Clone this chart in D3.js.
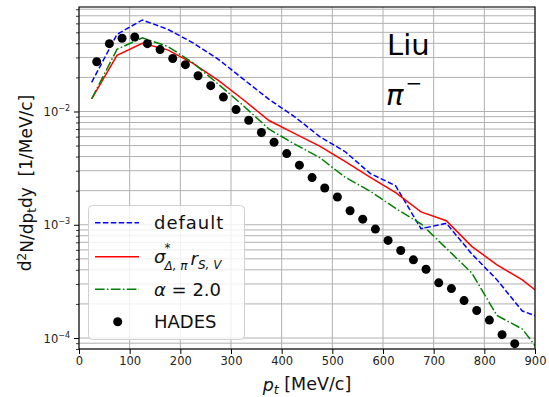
<!DOCTYPE html>
<html>
<head>
<meta charset="utf-8">
<script src="https://cdn.jsdelivr.net/npm/d3@7"></script>
<style>
  html, body { margin: 0; padding: 0; background: #fff; }
  svg { display: block; font-family: "DejaVu Sans", sans-serif; }
</style>
</head>
<body>
<svg id="chart" width="549" height="397"></svg>
<script>
// Transverse-momentum spectrum of pi-minus: three model curves and HADES data
const hadesPt = [35, 60, 85, 110, 135, 160, 185, 210, 235, 260, 285, 310, 335, 360, 385,
  410, 435, 460, 485, 510, 535, 560, 585, 610, 635, 660, 685, 710, 735, 760, 785, 810, 835, 860];
const hadesVals = [0.0275, 0.0397, 0.0443, 0.0455, 0.0397, 0.0352, 0.0294, 0.0259, 0.0207,
  0.0169, 0.0134, 0.0104, 0.00837, 0.00652, 0.00535, 0.00425, 0.00336, 0.00261, 0.00211,
  0.00176, 0.00133, 0.00112, 0.000916, 0.000727, 0.000592, 0.000490, 0.000405, 0.000307,
  0.000273, 0.000214, 0.000175, 0.000144, 0.000107, 0.0000891];

const modelPt = [25, 75, 125, 175, 225, 275, 325, 375, 425, 475, 525, 575, 625, 675, 725, 775, 825, 875, 925];
const defaultVals = [0.0181, 0.0480, 0.0643, 0.0532, 0.0404, 0.0289, 0.0192, 0.0128, 0.00903,
  0.00601, 0.00443, 0.00283, 0.00221, 0.000922, 0.00103, 0.000554, 0.000326, 0.000173, 0.000144];
const sigmaVals = [0.01295, 0.0313, 0.0400, 0.0350, 0.0266, 0.0188, 0.01264, 0.00832, 0.00641,
  0.00495, 0.00363, 0.00262, 0.00192, 0.00130, 0.001085, 0.000645, 0.000443, 0.000326, 0.000217];
const alphaVals = [0.01295, 0.0354, 0.0447, 0.0376, 0.0269, 0.01744, 0.01119, 0.00699, 0.00518,
  0.00392, 0.00263, 0.001975, 0.001394, 0.00102, 0.000619, 0.000376, 0.000158, 0.000120, 0.0000614];

const xTicks = [0, 100, 200, 300, 400, 500, 600, 700, 800, 900];
const yMajorTicks = [1e-4, 1e-3, 1e-2];
const yMajorLabels = ["\u22124", "\u22123", "\u22122"];

const margin = { left: 79, right: 14, top: 7, bottom: 48 };
const W = 549, H = 397;
const svg = d3.select("#chart");

const x = d3.scaleLinear().domain([0, 900]).range([margin.left, W - margin.right]);
const y = d3.scaleLog().domain([Math.pow(10, -4.0971), Math.pow(10, -1.0773)]).range([H - margin.bottom, margin.top]);

const x0 = x.range()[0], x1 = x.range()[1];
const yb = y.range()[0], yt = y.range()[1];

// minor ticks on the log axis
const yMinorTicks = [];
for (let e = -5; e <= -1; e++) {
  for (let m = 2; m <= 9; m++) {
    const v = m * Math.pow(10, e);
    if (v >= y.domain()[0] && v <= y.domain()[1]) yMinorTicks.push(v);
  }
}

const gridColor = "#b0b0b0";
const grid = svg.append("g");
grid.selectAll("line.gx").data(xTicks).join("line")
  .attr("x1", d => x(d)).attr("x2", d => x(d)).attr("y1", yt).attr("y2", yb)
  .attr("stroke", gridColor).attr("stroke-width", 1);
grid.selectAll("line.gy").data(yMajorTicks.concat(yMinorTicks)).join("line")
  .attr("x1", x0).attr("x2", x1).attr("y1", d => y(d)).attr("y2", d => y(d))
  .attr("stroke", gridColor).attr("stroke-width", 1);

svg.append("clipPath").attr("id", "plotclip").append("rect")
  .attr("x", x0).attr("y", yt).attr("width", x1 - x0).attr("height", yb - yt);

const plot = svg.append("g").attr("clip-path", "url(#plotclip)");
const line = d3.line().x(d => x(d[0])).y(d => y(d[1]));

const series = [
  { name: "default", vals: defaultVals, color: "#0000ff", dash: "5.5,2.4" },
  { name: "sigma", vals: sigmaVals, color: "#ff0000", dash: null },
  { name: "alpha", vals: alphaVals, color: "#008000", dash: "9.6,2.4,1.5,2.4" }
];
series.forEach(s => {
  plot.append("path")
    .datum(modelPt.map((p, i) => [p, s.vals[i]]))
    .attr("d", line)
    .attr("fill", "none")
    .attr("stroke", s.color)
    .attr("stroke-width", 1.5)
    .attr("stroke-dasharray", s.dash);
});

plot.selectAll("circle.hades").data(hadesPt.map((p, i) => [p, hadesVals[i]])).join("circle")
  .attr("cx", d => x(d[0])).attr("cy", d => y(d[1])).attr("r", 4.5).attr("fill", "#000");

// axes
const xAxis = svg.append("g").attr("transform", `translate(0,${yb})`)
  .call(d3.axisBottom(x).tickValues(xTicks).tickSize(5).tickPadding(3).tickFormat(d3.format("d")));
xAxis.select(".domain").remove();
xAxis.selectAll("text").attr("font-size", 11.5).attr("fill", "#222").attr("font-family", "DejaVu Sans");
xAxis.selectAll("line").attr("stroke", "#000").attr("stroke-width", 1);

const yAxis = svg.append("g").attr("transform", `translate(${x0},0)`)
  .call(d3.axisLeft(y).tickValues(yMajorTicks).tickSize(5).tickPadding(4).tickFormat(() => ""));
yAxis.select(".domain").remove();
yAxis.selectAll("line").attr("stroke", "#000").attr("stroke-width", 1);
yAxis.selectAll(".tick text").each(function(d, i) {
  const t = d3.select(this).attr("font-size", 11.5).attr("fill", "#222").attr("font-family", "DejaVu Sans")
    .attr("dy", "0.35em");
  t.append("tspan").text("10");
  t.append("tspan").attr("font-size", 8).attr("dy", "-0.6em").text(yMajorLabels[i]);
});

const yMinorAxis = svg.append("g").attr("transform", `translate(${x0},0)`)
  .call(d3.axisLeft(y).tickValues(yMinorTicks).tickSize(3).tickFormat(() => ""));
yMinorAxis.select(".domain").remove();
yMinorAxis.selectAll("line").attr("stroke", "#000").attr("stroke-width", 0.8);

// spines
svg.append("rect").attr("x", x0).attr("y", yt).attr("width", x1 - x0).attr("height", yb - yt)
  .attr("fill", "none").attr("stroke", "#000").attr("stroke-width", 1.1);

// axis labels
const xl = svg.append("text").attr("x", (x0 + x1) / 2).attr("y", 391).attr("text-anchor", "middle")
  .attr("font-size", 17.5).attr("fill", "#111");
xl.append("tspan").attr("font-style", "italic").text("p");
xl.append("tspan").attr("font-style", "italic").attr("font-size", 12.5).attr("dy", "0.2em").text("t");
xl.append("tspan").attr("dy", "-0.2em").text(" [MeV/c]");

const yl = svg.append("text")
  .attr("transform", `translate(31,183) rotate(-90)`)
  .attr("text-anchor", "middle").attr("font-size", 17).attr("fill", "#111");
yl.append("tspan").text("d");
yl.append("tspan").attr("font-size", 12).attr("dy", "-0.45em").text("2");
yl.append("tspan").attr("dy", "0.45em").text("N/dp");
yl.append("tspan").attr("font-size", 12).attr("dy", "0.25em").text("t");
yl.append("tspan").attr("dy", "-0.25em").text("dy\u00a0\u00a0[1/MeV/c]");

// annotation
svg.append("text").attr("x", 387).attr("y", 55).attr("font-size", 29).attr("fill", "#000").text("Liu");
const pi = svg.append("text").attr("x", 386).attr("y", 105).attr("font-size", 29).attr("fill", "#000");
pi.append("tspan").attr("font-style", "italic").text("\u03c0");
pi.append("tspan").attr("font-size", 20).attr("dy", "-0.75em").attr("dx", "2").text("\u2212");

// legend
const lg = svg.append("g");
lg.append("rect").attr("x", 88.5).attr("y", 205.5).attr("width", 156).attr("height", 134).attr("rx", 4)
  .attr("fill", "#fff").attr("fill-opacity", 0.8).attr("stroke", "#d0d0d0").attr("stroke-width", 1);
const rows = [222.7, 256.7, 289.3, 321.7];
series.forEach((s, i) => {
  lg.append("line").attr("x1", 95).attr("x2", 139).attr("y1", rows[i]).attr("y2", rows[i])
    .attr("stroke", s.color).attr("stroke-width", 1.5).attr("stroke-dasharray", s.dash);
});
lg.append("circle").attr("cx", 117.7).attr("cy", rows[3]).attr("r", 4.5).attr("fill", "#000");

const tx = 154;
lg.append("text").attr("x", tx).attr("y", rows[0] + 6.5).attr("font-size", 18).attr("letter-spacing", 1).attr("fill", "#111").text("default");
const sg = lg.append("text").attr("x", tx).attr("y", rows[1] + 6.5).attr("font-size", 18).attr("fill", "#111");
sg.append("tspan").attr("font-style", "italic").text("\u03c3");
sg.append("tspan").attr("font-size", 12).attr("dx", "-1").attr("dy", "-0.95em").text("*");
sg.append("tspan").attr("font-size", 12).attr("dx", "-6").attr("dy", "1.55em").attr("font-style", "italic").text("\u0394, \u03c0");
sg.append("tspan").attr("dy", "-0.3em").attr("dx", "3").attr("font-style", "italic").text("r");
sg.append("tspan").attr("font-size", 12).attr("dy", "0.3em").attr("font-style", "italic").text("S, V");
const al = lg.append("text").attr("x", tx).attr("y", rows[2] + 6.5).attr("font-size", 18).attr("fill", "#111");
al.append("tspan").attr("font-style", "italic").text("\u03b1");
al.append("tspan").text(" = 2.0");
lg.append("text").attr("x", tx).attr("y", rows[3] + 6.5).attr("font-size", 18).attr("fill", "#111").text("HADES");
</script>
</body>
</html>
